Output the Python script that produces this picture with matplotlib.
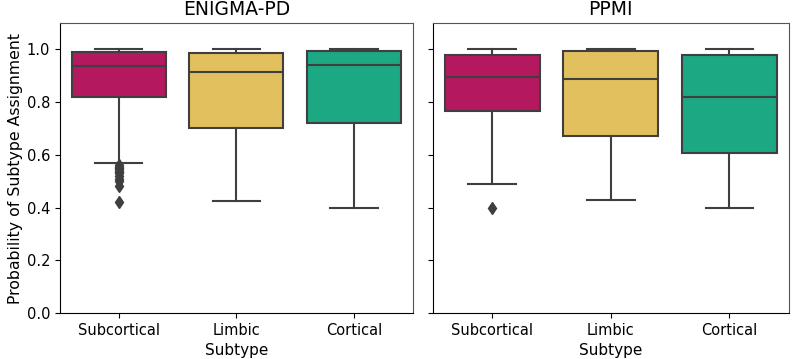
import matplotlib
matplotlib.use("Agg")
import matplotlib.pyplot as plt

subtypes = ["Subcortical", "Limbic", "Cortical"]
colors = ["#B4195F", "#E2C05E", "#1BA883"]

# ENIGMA-PD box stats: whislo, q1, median, q3, whishi
enigma_whislo = [0.57, 0.425, 0.40]
enigma_q1 = [0.82, 0.70, 0.72]
enigma_med = [0.935, 0.915, 0.94]
enigma_q3 = [0.99, 0.988, 0.995]
enigma_whishi = [1.0, 1.0, 1.0]
enigma_fliers = [[0.56, 0.555, 0.55, 0.545, 0.54, 0.535, 0.53, 0.52, 0.51, 0.50, 0.48, 0.42], [], []]

# PPMI box stats
ppmi_whislo = [0.49, 0.427, 0.40]
ppmi_q1 = [0.765, 0.672, 0.608]
ppmi_med = [0.895, 0.888, 0.818]
ppmi_q3 = [0.98, 0.993, 0.98]
ppmi_whishi = [1.0, 1.0, 1.0]
ppmi_fliers = [[0.40], [], []]

line_col = "#3f3f3f"


def make_stats(lo, q1, med, q3, hi, fl):
    return [dict(whislo=lo[i], q1=q1[i], med=med[i], q3=q3[i], whishi=hi[i],
                 fliers=fl[i], label=subtypes[i]) for i in range(len(subtypes))]


fig = plt.figure(figsize=(8, 3.59), dpi=100)
ax1 = fig.add_axes([0.075, 0.128, 0.441, 0.808])
ax2 = fig.add_axes([0.541, 0.128, 0.445, 0.808], sharey=ax1)

panels = [
    (ax1, "ENIGMA-PD", make_stats(enigma_whislo, enigma_q1, enigma_med, enigma_q3, enigma_whishi, enigma_fliers)),
    (ax2, "PPMI", make_stats(ppmi_whislo, ppmi_q1, ppmi_med, ppmi_q3, ppmi_whishi, ppmi_fliers)),
]

for ax, title, stats in panels:
    bp = ax.bxp(stats, positions=range(3), widths=0.8, patch_artist=True,
                boxprops=dict(edgecolor=line_col, linewidth=1.5),
                medianprops=dict(color=line_col, linewidth=1.5),
                whiskerprops=dict(color=line_col, linewidth=1.5),
                capprops=dict(color=line_col, linewidth=1.5),
                flierprops=dict(marker="d", markerfacecolor=line_col, markeredgecolor=line_col,
                                markersize=6),
                capwidths=0.4)
    for patch, c in zip(bp["boxes"], colors):
        patch.set_facecolor(c)
    ax.set_title(title, fontsize=13.5)
    ax.set_xlabel("Subtype", fontsize=11)
    ax.set_xticks(range(3))
    ax.set_xticklabels(subtypes, fontsize=10.5)
    ax.set_xlim(-0.5, 2.5)
    ax.set_ylim(0, 1.1)
    ax.set_yticks([0.0, 0.2, 0.4, 0.6, 0.8, 1.0])
    ax.tick_params(labelsize=10.5)
    for s in ["top", "right"]:
        ax.spines[s].set_color("#555555")

ax1.set_ylabel("Probability of Subtype Assignment", fontsize=11.3, labelpad=3)
ax2.tick_params(axis="y", labelleft=False)

plt.savefig("out.png", dpi=100)
